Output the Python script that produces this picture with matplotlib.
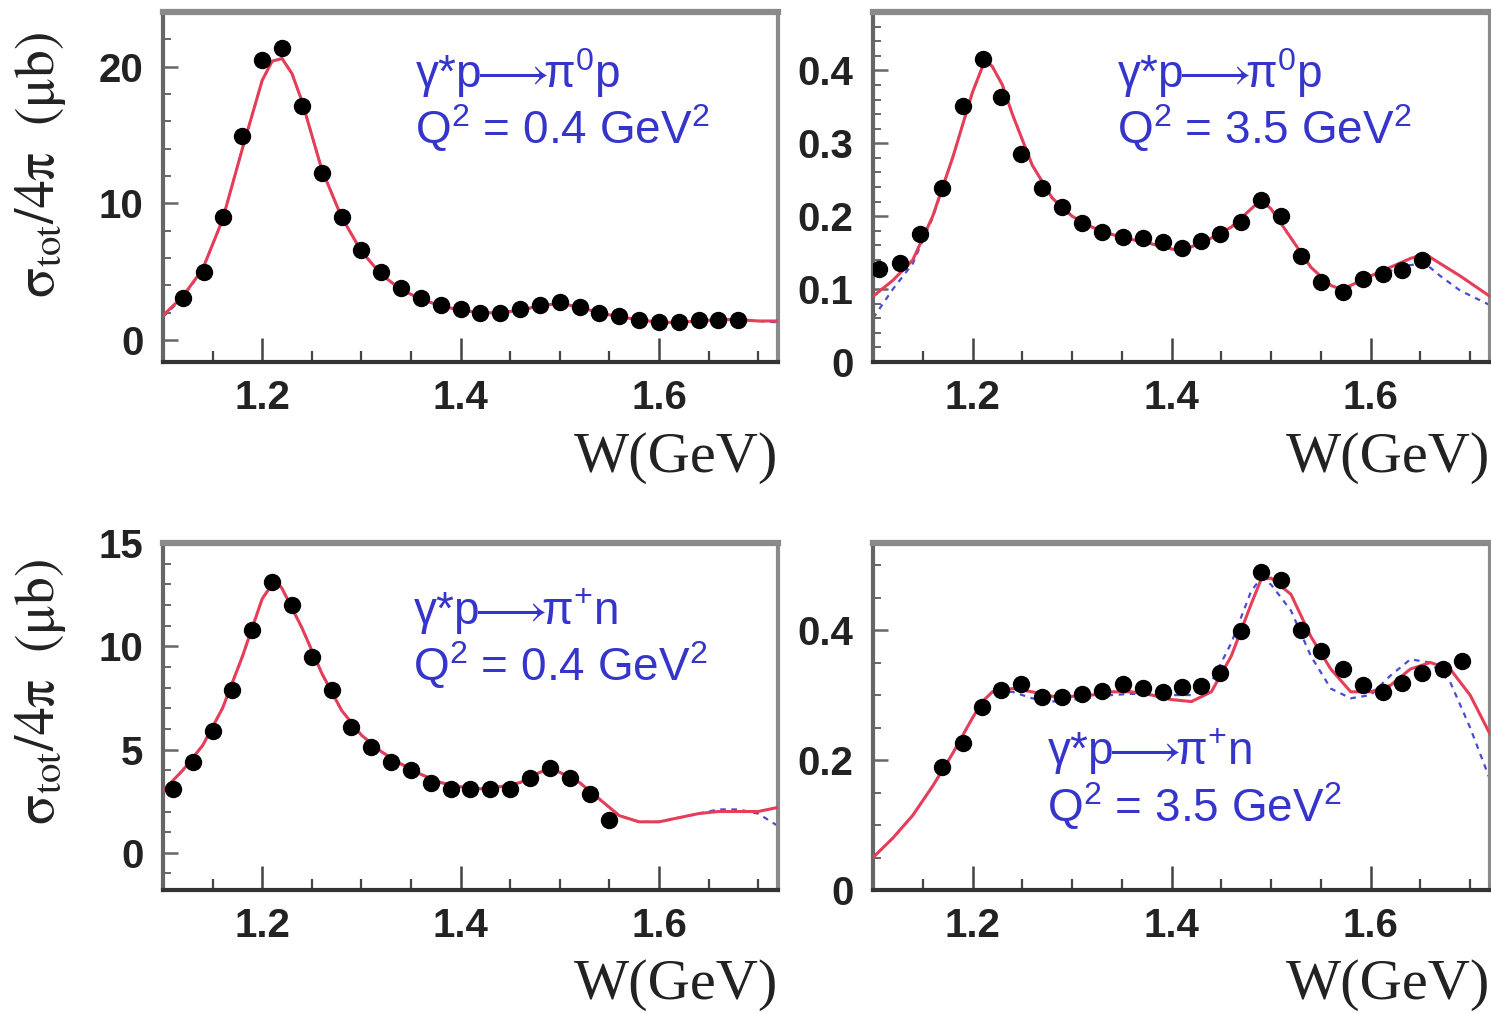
import matplotlib
matplotlib.use("Agg")
import matplotlib.pyplot as plt
from matplotlib.ticker import MultipleLocator
from matplotlib.patches import Rectangle

plt.rcParams['mathtext.fontset'] = 'custom'
plt.rcParams['mathtext.rm'] = 'Liberation Sans'
plt.rcParams['mathtext.it'] = 'Liberation Sans:italic'
plt.rcParams['mathtext.bf'] = 'Liberation Sans:bold'
plt.rcParams['mathtext.fallback'] = 'stix'

# ---------------- data ----------------
# Panel A: pi0 p, Q2 = 0.4
wA = [1.12, 1.141, 1.16, 1.18, 1.20, 1.22, 1.24, 1.26, 1.28, 1.30, 1.32, 1.34, 1.36, 1.38,
      1.40, 1.42, 1.44, 1.46, 1.48, 1.50, 1.52, 1.54, 1.56, 1.58, 1.60, 1.62, 1.64, 1.66, 1.68]
sA = [3.1, 5.0, 9.0, 14.9, 20.5, 21.4, 17.1, 12.2, 9.0, 6.6, 5.0, 3.8, 3.1, 2.6,
      2.3, 2.0, 2.0, 2.3, 2.6, 2.8, 2.4, 2.0, 1.75, 1.5, 1.3, 1.3, 1.5, 1.5, 1.5]
cwA = [1.10, 1.12, 1.14, 1.16, 1.18, 1.20, 1.21, 1.22, 1.23, 1.24, 1.26, 1.28, 1.30, 1.32, 1.34,
       1.36, 1.38, 1.40, 1.42, 1.44, 1.46, 1.48, 1.50, 1.52, 1.54, 1.56, 1.58, 1.60, 1.62, 1.64,
       1.66, 1.68, 1.70, 1.72]
redA = [1.8, 3.2, 5.2, 8.8, 14.0, 19.0, 20.4, 20.6, 19.5, 17.5, 12.5, 9.0, 6.5, 4.8, 3.7,
        3.0, 2.5, 2.2, 2.0, 2.0, 2.2, 2.5, 2.7, 2.4, 2.0, 1.7, 1.5, 1.3, 1.3, 1.4,
        1.5, 1.5, 1.4, 1.4]
blueA = [1.7, 3.1, 5.2, 8.8, 14.0, 19.0, 20.4, 20.6, 19.5, 17.5, 12.5, 9.0, 6.5, 4.8, 3.7,
         3.0, 2.5, 2.2, 2.0, 2.0, 2.2, 2.5, 2.7, 2.4, 2.0, 1.7, 1.5, 1.3, 1.3, 1.4,
         1.5, 1.5, 1.4, 1.3]

# Panel B: pi0 p, Q2 = 3.5
wB = [1.106, 1.127, 1.147, 1.169, 1.190, 1.211, 1.229, 1.249, 1.270, 1.290, 1.310, 1.330, 1.351,
      1.371, 1.391, 1.410, 1.430, 1.449, 1.470, 1.490, 1.510, 1.530, 1.550, 1.572, 1.592, 1.612,
      1.632, 1.652]
sB = [0.127, 0.136, 0.175, 0.238, 0.351, 0.416, 0.363, 0.285, 0.238, 0.212, 0.190, 0.178, 0.171,
      0.170, 0.164, 0.156, 0.166, 0.175, 0.192, 0.222, 0.200, 0.145, 0.110, 0.096, 0.114, 0.121,
      0.126, 0.140]
cwB = [1.10, 1.12, 1.14, 1.16, 1.18, 1.20, 1.21, 1.215, 1.22, 1.23, 1.24, 1.26, 1.28, 1.30, 1.32,
       1.34, 1.36, 1.38, 1.40, 1.41, 1.42, 1.44, 1.46, 1.48, 1.49, 1.50, 1.52, 1.54, 1.56, 1.57,
       1.58, 1.60, 1.62, 1.64, 1.655, 1.67, 1.69, 1.72]
redB = [0.090, 0.112, 0.140, 0.200, 0.280, 0.370, 0.405, 0.412, 0.405, 0.380, 0.340, 0.270, 0.225,
        0.200, 0.185, 0.175, 0.168, 0.162, 0.155, 0.153, 0.158, 0.170, 0.185, 0.210, 0.222, 0.210,
        0.170, 0.130, 0.105, 0.100, 0.105, 0.118, 0.130, 0.142, 0.148, 0.135, 0.118, 0.090]
blueB = [0.060, 0.100, 0.135, 0.198, 0.280, 0.370, 0.405, 0.412, 0.405, 0.380, 0.340, 0.270, 0.225,
         0.200, 0.185, 0.175, 0.168, 0.162, 0.155, 0.153, 0.158, 0.170, 0.185, 0.210, 0.222, 0.210,
         0.170, 0.130, 0.105, 0.100, 0.103, 0.115, 0.125, 0.133, 0.135, 0.118, 0.098, 0.078]

# Panel C: pi+ n, Q2 = 0.4
wC = [1.11, 1.13, 1.15, 1.17, 1.19, 1.21, 1.23, 1.25, 1.27, 1.29, 1.31, 1.33, 1.35, 1.37,
      1.39, 1.41, 1.43, 1.45, 1.47, 1.49, 1.51, 1.53, 1.55]
sC = [3.1, 4.4, 5.9, 7.9, 10.8, 13.1, 12.0, 9.5, 7.9, 6.1, 5.1, 4.4, 4.0, 3.4,
      3.1, 3.1, 3.1, 3.1, 3.6, 4.1, 3.6, 2.85, 1.6]
cwC = [1.10, 1.12, 1.14, 1.16, 1.18, 1.20, 1.21, 1.215, 1.22, 1.24, 1.26, 1.28, 1.30, 1.32, 1.34,
       1.36, 1.38, 1.40, 1.42, 1.44, 1.46, 1.48, 1.49, 1.50, 1.52, 1.54, 1.56, 1.58, 1.60, 1.62,
       1.64, 1.66, 1.68, 1.70, 1.72]
redC = [3.0, 4.0, 5.2, 7.0, 9.5, 12.3, 13.0, 13.1, 12.8, 10.9, 8.7, 6.9, 5.7, 4.9, 4.3,
        3.8, 3.4, 3.2, 3.1, 3.2, 3.4, 3.9, 4.05, 3.9, 3.4, 2.6, 1.8, 1.5, 1.5, 1.7,
        1.9, 2.0, 2.0, 2.0, 2.2]
blueC = [3.0, 4.0, 5.2, 7.0, 9.5, 12.3, 13.0, 13.1, 12.8, 10.9, 8.7, 6.9, 5.7, 4.9, 4.3,
         3.8, 3.4, 3.2, 3.1, 3.2, 3.4, 3.9, 4.05, 3.9, 3.4, 2.6, 1.8, 1.5, 1.5, 1.7,
         1.9, 2.1, 2.1, 1.9, 1.3]

# Panel D: pi+ n, Q2 = 3.5
wD = [1.169, 1.190, 1.210, 1.229, 1.249, 1.270, 1.290, 1.310, 1.330, 1.351, 1.371, 1.391, 1.410,
      1.430, 1.449, 1.470, 1.490, 1.510, 1.530, 1.550, 1.572, 1.592, 1.612, 1.632, 1.652, 1.673,
      1.692]
sD = [0.189, 0.226, 0.282, 0.308, 0.317, 0.297, 0.297, 0.302, 0.306, 0.317, 0.311, 0.305, 0.312,
      0.314, 0.334, 0.398, 0.489, 0.477, 0.400, 0.368, 0.340, 0.315, 0.305, 0.318, 0.334, 0.340,
      0.352]
cwD = [1.10, 1.12, 1.14, 1.16, 1.18, 1.20, 1.21, 1.22, 1.24, 1.26, 1.28, 1.30, 1.32, 1.34, 1.36,
       1.38, 1.40, 1.42, 1.44, 1.46, 1.48, 1.49, 1.50, 1.52, 1.54, 1.56, 1.58, 1.60, 1.62, 1.64,
       1.66, 1.68, 1.70, 1.72]
redD = [0.050, 0.080, 0.115, 0.160, 0.210, 0.265, 0.290, 0.305, 0.310, 0.305, 0.298, 0.298, 0.300,
        0.305, 0.305, 0.300, 0.293, 0.290, 0.305, 0.360, 0.440, 0.478, 0.480, 0.455, 0.390, 0.340,
        0.305, 0.305, 0.315, 0.340, 0.350, 0.340, 0.300, 0.240]
blueD = [0.050, 0.080, 0.115, 0.160, 0.210, 0.265, 0.290, 0.305, 0.305, 0.295, 0.290, 0.293, 0.296,
         0.300, 0.302, 0.300, 0.300, 0.300, 0.320, 0.380, 0.460, 0.480, 0.470, 0.430, 0.360, 0.310,
         0.295, 0.300, 0.330, 0.355, 0.350, 0.320, 0.250, 0.170]

ARROW = r"$\!\!\longrightarrow\!\!$"
labelsA = [r"$\mathrm{\gamma}$*p" + ARROW + r"$\mathrm{\pi}^{0}$p", r"Q$^{2}$ = 0.4 GeV$^{2}$"]
labelsB = [r"$\mathrm{\gamma}$*p" + ARROW + r"$\mathrm{\pi}^{0}$p", r"Q$^{2}$ = 3.5 GeV$^{2}$"]
labelsC = [r"$\mathrm{\gamma}$*p" + ARROW + r"$\mathrm{\pi}^{+}$n", r"Q$^{2}$ = 0.4 GeV$^{2}$"]
labelsD = [r"$\mathrm{\gamma}$*p" + ARROW + r"$\mathrm{\pi}^{+}$n", r"Q$^{2}$ = 3.5 GeV$^{2}$"]

xticks = [1.2, 1.4, 1.6]
xticklabels = ["1.2", "1.4", "1.6"]

# ---------------- figure ----------------
W, H = 1491, 1014
fig = plt.figure(figsize=(W / 100, H / 100), dpi=100)

def px_axes(x0, y0, x1, y1):
    return fig.add_axes([x0 / W, 1 - y1 / H, (x1 - x0) / W, (y1 - y0) / H])

axA = px_axes(163, 12, 778, 362)
axB = px_axes(873, 12, 1490, 362)
axC = px_axes(163, 543, 778, 890)
axD = px_axes(873, 543, 1490, 890)

TXT = '#3535cc'
RED = '#e63e58'
BLUE = '#4a4ad8'

panels = [
    (axA, wA, sA, cwA, redA, blueA, labelsA, (-1.6, 24.0), 2, ['0', '10', '20'], [0, 10, 20], (0.41, 0.783, 0.626)),
    (axB, wB, sB, cwB, redB, blueB, labelsB, (0.0, 0.48), 0.02, ['0', '0.1', '0.2', '0.3', '0.4'], [0, 0.1, 0.2, 0.3, 0.4], (0.395, 0.783, 0.626)),
    (axC, wC, sC, cwC, redC, blueC, labelsC, (-1.8, 15.0), 1, ['0', '5', '10', '15'], [0, 5, 10, 15], (0.407, 0.764, 0.605)),
    (axD, wD, sD, cwD, redD, blueD, labelsD, (0.0, 0.534), 0.05, ['0', '0.2', '0.4'], [0, 0.2, 0.4], (0.282, 0.36, 0.20)),
]

for i, (ax, w, s, cw, red, blue, labs, ylim, ymin, ytl, ytv, tpos) in enumerate(panels):
    ax.plot(cw, blue, color=BLUE, lw=1.6, ls=(0, (2.5, 2.5)), zorder=2)
    ax.plot(cw, red, color=RED, lw=2.2, zorder=3)
    ax.plot(w, s, 'o', color='black', ms=11.5, zorder=4)
    ax.set_xlim(1.10, 1.72)
    ax.set_ylim(*ylim)
    ax.set_xticks(xticks)
    ax.set_xticklabels(xticklabels)
    ax.xaxis.set_minor_locator(MultipleLocator(0.05))
    ax.set_yticks(ytv)
    ax.set_yticklabels(ytl)
    ax.yaxis.set_minor_locator(MultipleLocator(ymin))
    ax.tick_params(axis='x', which='major', direction='in', length=17, width=1.8, color='#444',
                   pad=12, labelsize=29)
    ax.tick_params(axis='x', which='minor', direction='in', length=8, width=1.6, color='#444')
    ax.tick_params(axis='y', which='major', direction='in', length=11, width=1.8, color='#666',
                   pad=14, labelsize=29)
    ax.tick_params(axis='y', which='minor', direction='in', length=6, width=1.4, color='#666')
    ax.tick_params(top=False, right=False)
    for lab in ax.get_xticklabels() + ax.get_yticklabels():
        lab.set_fontfamily('Liberation Sans')
        lab.set_fontweight('bold')
        lab.set_color('#222')
    ax.spines['top'].set_color('#8a8a8a')
    ax.spines['top'].set_linewidth(4.5)
    ax.spines['right'].set_color('#8a8a8a')
    ax.spines['right'].set_linewidth(3.0)
    ax.spines['left'].set_color('#666')
    ax.spines['left'].set_linewidth(3.0)
    ax.spines['bottom'].set_color('#333')
    ax.spines['bottom'].set_linewidth(3.0)

    ax.text(1.0, -0.275, 'W(GeV)', transform=ax.transAxes, ha='right', va='center',
            fontsize=42, family='Liberation Serif', color='#222')

    tx, ty1, ty2 = tpos
    for lab, ty in zip(labs, (ty1, ty2)):
        ax.text(tx, ty, lab, transform=ax.transAxes, ha='left', va='baseline', fontsize=33,
                family='Liberation Sans', math_fontfamily='custom', color=TXT, zorder=6)

# white patches from the pasted labels
axA.add_patch(Rectangle((0.377, 0.49), 0.57, 0.497, transform=axA.transAxes, facecolor='white',
                        edgecolor='none', zorder=5, clip_on=False))
axD.add_patch(Rectangle((0.28, 0.13), 0.57, 0.38, transform=axD.transAxes, facecolor='white',
                        edgecolor='none', zorder=5))

for ax, yc in ((axA, 0.563), (axC, 0.57)):
    ax.text(-0.2, yc, r'$\mathrm{\sigma_{tot}/4\pi\ \ (\mu b)}$', transform=ax.transAxes,
            rotation=90, ha='center', va='center', fontsize=40, color='#222',
            math_fontfamily='stix')

fig.savefig('out.png', dpi=100)
